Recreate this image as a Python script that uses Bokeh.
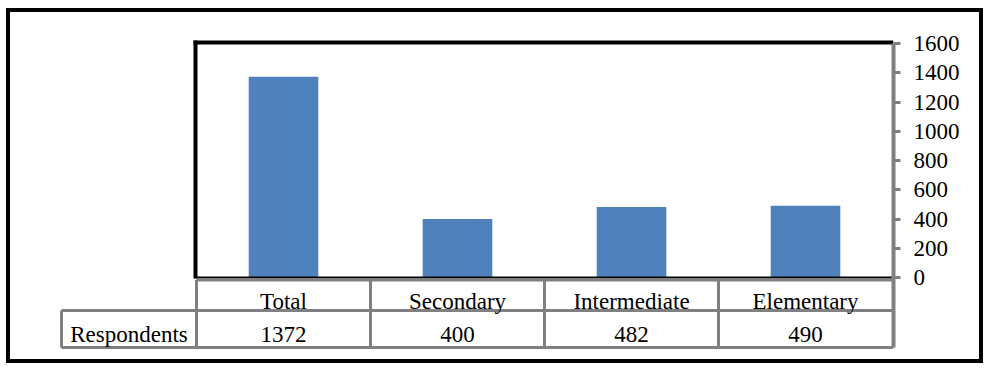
from bokeh.plotting import figure
from bokeh.models import Range1d, LinearAxis, FixedTicker
from bokeh.core.properties import value
from bokeh.embed import file_html
from bokeh.resources import INLINE

# ---- data ----
categories = ["Total", "Secondary", "Intermediate", "Elementary"]
respondents = [1372, 400, 482, 490]
row_label = "Respondents"
y_ticks = [0, 200, 400, 600, 800, 1000, 1200, 1400, 1600]

# ---- layout (page pixels) ----
BORDER = 4
HOST_X, HOST_Y = 10, 12        # top-left of the canvas on the page (inside the outer border)
W, H = 969, 347                # canvas size
frame_r = 893                  # page x of chart right edge / axis line
zero_px, top_px = 277, 43      # page y of value 0 and of value 1600
cat0_px, cat_w = 196, 174      # page x of first category start, category width
table_top, table_mid, table_bot = 279.5, 310, 347
label_left = 61

frame_l, frame_t, frame_b = HOST_X, HOST_Y, HOST_Y + H

ppu = (zero_px - top_px) / y_ticks[-1]
y_start = -(frame_b - zero_px) / ppu
y_end = (zero_px - frame_t) / ppu
x_start = (frame_l - cat0_px) / cat_w
x_end = (frame_r - cat0_px) / cat_w
table_bot_val = -(table_bot - zero_px) / ppu

FONT = "Liberation Serif"
FS = "23px"
GRAY = "#808080"
BAR = "#4F81BD"

p = figure(width=W, height=H,
           x_range=Range1d(x_start, x_end), y_range=Range1d(y_start, y_end),
           output_backend="svg", toolbar_location=None,
           x_axis_location=None, y_axis_location=None,
           min_border_left=0, min_border_top=0, min_border_bottom=0,
           min_border_right=W - (frame_r - frame_l))
p.outline_line_color = None
p.grid.visible = False
p.background_fill_color = "white"
p.border_fill_color = "white"
p.styles = {"position": "absolute", "left": f"{HOST_X}px", "top": f"{HOST_Y}px",
            "box-shadow": f"0 0 0 {BORDER}px black"}

p.extra_x_ranges = {"px": Range1d(frame_l, frame_r)}
p.extra_y_ranges = {"px": Range1d(frame_b, frame_t)}

# bars
xs = [i + 0.5 for i in range(len(categories))]
p.vbar(x=xs, top=respondents, bottom=0, width=0.4, fill_color=BAR, line_color=None)

# chart frame (black)
p.segment(x0=[195, 193], y0=[40, 42], x1=[195, 893], y1=[278, 42],
          line_color="black", line_width=4, x_range_name="px", y_range_name="px")
p.segment(x0=[195], y0=[277], x1=[893], y1=[277],
          line_color="black", line_width=2, x_range_name="px", y_range_name="px")

# table grid (gray)
hx0 = [cat0_px, label_left, label_left]
hx1 = [frame_r, frame_r, frame_r]
hy = [table_top, table_mid, table_bot]
p.segment(x0=hx0, y0=hy, x1=hx1, y1=hy, line_color=GRAY, line_width=3,
          x_range_name="px", y_range_name="px")
vx = [cat0_px + i * cat_w for i in range(len(categories))]
p.segment(x0=vx, y0=[table_top] * len(vx), x1=vx, y1=[table_bot] * len(vx),
          line_color=GRAY, line_width=3, x_range_name="px", y_range_name="px")
p.segment(x0=[label_left], y0=[table_mid], x1=[label_left], y1=[table_bot],
          line_color=GRAY, line_width=3, x_range_name="px", y_range_name="px")

# table texts
p.text(x=xs, y=[301] * len(xs), text=categories, y_range_name="px",
       text_font=value(FONT), text_font_size=value(FS), text_color="black",
       text_align="center", text_baseline="alphabetic")
p.text(x=xs, y=[334] * len(xs), text=[str(v) for v in respondents], y_range_name="px",
       text_font=value(FONT), text_font_size=value(FS), text_color="black",
       text_align="center", text_baseline="alphabetic")
p.text(x=[(label_left + cat0_px) / 2], y=[334], text=[row_label],
       x_range_name="px", y_range_name="px",
       text_font=value(FONT), text_font_size=value(FS), text_color="black",
       text_align="center", text_baseline="alphabetic")

# right axis
ax = LinearAxis(bounds=(table_bot_val, y_ticks[-1]), ticker=FixedTicker(ticks=y_ticks),
                axis_line_color=GRAY, axis_line_width=4,
                major_tick_line_color=GRAY, major_tick_line_width=3,
                major_tick_in=0, major_tick_out=7,
                minor_tick_line_color=None, major_label_standoff=13,
                major_label_text_font=FONT, major_label_text_font_size=FS,
                major_label_text_color="black")
p.add_layout(ax, "right")

open("out.html", "w").write(file_html(p, INLINE))
